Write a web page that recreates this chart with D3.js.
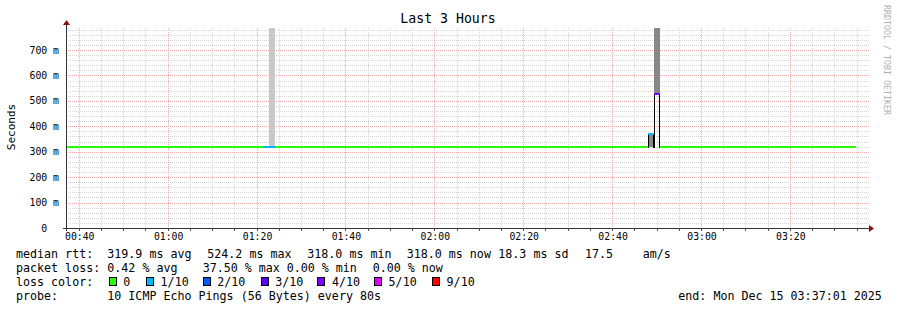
<!DOCTYPE html>
<html lang="en">
<head>
<meta charset="UTF-8" />
<title>Last 3 Hours</title>
<style>
  body { margin: 0; background: #fff; }
  svg { display: block; font-family: "DejaVu Sans Mono", monospace; }
  text { white-space: pre; }
</style>
</head>
<body>
<svg id="chart" width="897" height="310"></svg>
<script src="https://d3js.org/d3.v7.min.js"></script>
<script>
// ---- data ----
const title = "Last 3 Hours";
const yTitle = "Seconds";
const endTime = "2025-12-15 03:37:01";
const spanHours = 3;

const yTicks = [0, 0.1, 0.2, 0.3, 0.4, 0.5, 0.6, 0.7];
const yTickLabels = ["0", "100 m", "200 m", "300 m", "400 m", "500 m", "600 m", "700 m"];
const xTickLabels = ["00:40", "01:00", "01:20", "01:40", "02:00", "02:20", "02:40", "03:00", "03:20"];

// median rtt, one run per colour/level (seconds, loss out of 10)
const segStart  = ["00:37:01", "01:21:20", "01:24:00", "02:48:00", "02:49:20", "02:50:40"];
const segEnd    = ["01:21:20", "01:24:00", "02:48:00", "02:49:20", "02:50:40", "03:34:40"];
const segMedian = [0.319, 0.319, 0.319, 0.371, 0.527, 0.319];
const segLoss   = [0, 1, 0, 1, 4, 0];

// smoke (spread of the pings)
const smokeStart = ["01:22:40", "02:48:00", "02:49:20"];
const smokeEnd   = ["01:24:00", "02:49:20", "02:50:40"];
const smokeLo    = [0.319, 0.319, 0.527];
const smokeHi    = [0.9, 0.371, 0.9];
const smokeShade = ["#c8c8c8", "#878787", "#878787"];

const lossLabels = ["0", "1/10", "2/10", "3/10", "4/10", "5/10", "9/10"];
const lossFrom   = [0, 1, 2, 3, 4, 5, 9];
const lossColors = ["#26ff00", "#00b8ff", "#0059ff", "#5e00ff", "#7e00ff", "#dd00ff", "#ff0000"];

const rttStats  = ["319.9 ms avg", "524.2 ms max", "318.0 ms min", "318.0 ms now", "18.3 ms sd", "17.5", "am/s"];
const lossStats = ["0.42 % avg", "37.50 % max", "0.00 % min", "0.00 % now"];
const probeText = "10 ICMP Echo Pings (56 Bytes) every 80s";
const endText   = "end: Mon Dec 15 03:37:01 2025";
const credit    = "RRDTOOL / TOBI OETIKER";

// ---- drawing ----
const svg = d3.select("#chart");
const parseFull = d3.timeParse("%Y-%m-%d %H:%M:%S");
const t1 = parseFull(endTime);
const t0 = d3.timeHour.offset(t1, -spanHours);
const day = d3.timeFormat("%Y-%m-%d")(t1);
const at = s => parseFull(day + " " + (s.length === 5 ? s + ":00" : s));

const plotL = 66, plotR = 866, plotT = 28, plotB = 228;
const x = d3.scaleTime().domain([t0, t1]).range([plotL, plotR]);
const y = d3.scaleLinear().domain([0, 0.7865]).range([plotB, plotT]).clamp(true);
const lossColor = d3.scaleThreshold().domain(lossFrom.slice(1)).range(lossColors);

svg.append("rect").attr("width", 897).attr("height", 310).attr("fill", "#fff");

// grid
const grid = svg.append("g").attr("shape-rendering", "crispEdges");
const minorY = d3.range(1, 40).map(i => i * 0.02).filter(v => v <= 0.7865 && Math.round(v * 100) % 10 !== 0);
const majorY = yTicks.filter(v => v > 0);
const minorX = d3.timeMinute.every(5).range(t0, t1).filter(t => t.getMinutes() % 20 !== 0);
const majorX = d3.timeMinute.every(20).range(t0, t1);

grid.selectAll(".hmin").data(minorY).join("line")
  .attr("x1", plotL).attr("x2", 869)
  .attr("y1", d => Math.round(y(d)) + 0.5).attr("y2", d => Math.round(y(d)) + 0.5)
  .attr("stroke", "#d4d4d4").attr("stroke-dasharray", "1,1");
grid.selectAll(".vmin").data(minorX).join("line")
  .attr("x1", d => Math.floor(x(d)) + 0.5).attr("x2", d => Math.floor(x(d)) + 0.5)
  .attr("y1", plotT).attr("y2", plotB)
  .attr("stroke", "#d4d4d4").attr("stroke-dasharray", "1,1");
grid.selectAll(".hmaj").data(majorY).join("line")
  .attr("x1", plotL).attr("x2", 869)
  .attr("y1", d => Math.round(y(d)) + 0.5).attr("y2", d => Math.round(y(d)) + 0.5)
  .attr("stroke", "#f2a8a8").attr("stroke-dasharray", "1,1");
grid.selectAll(".vmaj").data(majorX).join("line")
  .attr("x1", d => Math.floor(x(d)) + 0.5).attr("x2", d => Math.floor(x(d)) + 0.5)
  .attr("y1", plotT).attr("y2", plotB)
  .attr("stroke", "#f2a8a8").attr("stroke-dasharray", "1,1");

// smoke
svg.append("g").attr("shape-rendering", "crispEdges")
  .selectAll("rect").data(smokeStart).join("rect")
  .attr("x", (d, i) => x(at(d)))
  .attr("width", (d, i) => x(at(smokeEnd[i])) - x(at(d)))
  .attr("y", (d, i) => y(smokeHi[i]))
  .attr("height", (d, i) => y(smokeLo[i]) - y(smokeHi[i]))
  .attr("fill", (d, i) => smokeShade[i]);

// black risers where the median leaves its base level
const base = d3.min(segMedian);
const risers = [];
segStart.forEach((s, i) => {
  if (segMedian[i] - base > 0.01) {
    risers.push({ t: at(s), v: segMedian[i], end: false });
    risers.push({ t: at(segEnd[i]), v: segMedian[i], end: true });
  }
});
svg.append("g").attr("shape-rendering", "crispEdges")
  .selectAll("line").data(risers).join("line")
  .attr("x1", d => Math.floor(x(d.t) - (d.end ? 0.5 : 0)) + 0.5)
  .attr("x2", d => Math.floor(x(d.t) - (d.end ? 0.5 : 0)) + 0.5)
  .attr("y1", d => y(d.v)).attr("y2", y(base) + 1)
  .attr("stroke", "#000");

// median line coloured by loss
const line = d3.line().x(d => d[0]).y(d => d[1]);
svg.append("g").attr("shape-rendering", "crispEdges")
  .selectAll("path").data(segStart).join("path")
  .attr("d", (d, i) => line([[x(at(d)), y(segMedian[i])], [x(at(segEnd[i])), y(segMedian[i])]]))
  .attr("fill", "none").attr("stroke-width", 2)
  .attr("stroke", (d, i) => lossColor(segLoss[i]));

// axes
const yAxis = svg.append("g").attr("transform", `translate(${plotL},0)`)
  .call(d3.axisLeft(y).tickValues(yTicks).tickSize(0).tickPadding(7)
    .tickFormat((d, i) => {
      const s = yTickLabels[i];
      return s.includes(" ") ? s : s.padStart(3) + "  ";
    }));
yAxis.select(".domain").remove();
yAxis.selectAll("text").attr("font-family", "DejaVu Sans Mono").attr("font-size", "9.8px").attr("fill", "#000");

const xAxis = svg.append("g").attr("transform", `translate(0,${plotB})`)
  .call(d3.axisBottom(x).tickValues(xTickLabels.map(at)).tickSize(0)
    .tickFormat((d, i) => xTickLabels[i]));
xAxis.select(".domain").remove();
xAxis.selectAll("text").attr("y", 12).attr("dy", 0)
  .attr("font-family", "DejaVu Sans Mono").attr("font-size", "9.8px").attr("fill", "#000");

const ticks = svg.append("g").attr("shape-rendering", "crispEdges");
ticks.selectAll("line").data(minorX.concat(majorX)).join("line")
  .attr("x1", d => Math.floor(x(d)) + 0.5).attr("x2", d => Math.floor(x(d)) + 0.5)
  .attr("y1", plotB).attr("y2", plotB + 3)
  .attr("stroke", "#555");

const axisLines = svg.append("g").attr("shape-rendering", "crispEdges");
axisLines.append("line").attr("x1", 63).attr("x2", 869)
  .attr("y1", plotB + 0.5).attr("y2", plotB + 0.5).attr("stroke", "#333");
axisLines.append("line").attr("x1", plotL + 0.5).attr("x2", plotL + 0.5)
  .attr("y1", 231).attr("y2", 25).attr("stroke", "#333");
svg.append("path").attr("d", `M869,${plotB - 3}L874,${plotB + 0.5}L869,${plotB + 4}Z`).attr("fill", "#8b1010");
svg.append("path").attr("d", `M${plotL - 3},25L${plotL + 0.5},20L${plotL + 4},25Z`).attr("fill", "#8b1010");

// titles
svg.append("text").attr("x", 448).attr("y", 23).attr("text-anchor", "middle")
  .attr("font-size", "13.2px").text(title);
svg.append("text").attr("transform", "translate(15,127) rotate(-90)").attr("text-anchor", "middle")
  .attr("font-size", "11px").text(yTitle);
svg.append("text").attr("transform", "translate(884,5) rotate(90)")
  .attr("font-size", "8.3px").attr("fill", "#b0b0b0").text(credit);

// legend
const lg = svg.append("g").attr("font-size", "11.66px").attr("fill", "#000");
const rowY = [258.3, 272.2, 286.1, 300];
const col = 107.3;
const rttX = [107.3, 207.3, 307.3, 406.7, 498.3, 585, 642.7];
const lossX = [107.3, 202.7, 286.7, 372.7];
const boxX = [108.7, 146, 202.7, 260.7, 317.3, 374, 432];

lg.append("text").attr("x", 16).attr("y", rowY[0]).text("median rtt:");
lg.selectAll(".rtt").data(rttStats).join("text")
  .attr("x", (d, i) => rttX[i]).attr("y", rowY[0]).text(d => d);

lg.append("text").attr("x", 16).attr("y", rowY[1]).text("packet loss:");
lg.selectAll(".pl").data(lossStats).join("text")
  .attr("x", (d, i) => lossX[i]).attr("y", rowY[1]).text(d => d);

lg.append("text").attr("x", 16).attr("y", rowY[2]).text("loss color:");
const items = lg.selectAll(".lc").data(lossLabels).join("g");
items.append("rect")
  .attr("x", (d, i) => Math.round(boxX[i]) + 0.5).attr("y", 277.5)
  .attr("width", 7).attr("height", 8)
  .attr("fill", (d, i) => lossColor(lossFrom[i]))
  .attr("stroke", "#000").attr("shape-rendering", "crispEdges");
items.append("text").attr("x", (d, i) => boxX[i] + 14.6).attr("y", rowY[2]).text(d => d);

lg.append("text").attr("x", 16).attr("y", rowY[3]).text("probe:");
lg.append("text").attr("x", col).attr("y", rowY[3]).text(probeText);
lg.append("text").attr("x", 678.3).attr("y", rowY[3]).text(endText);
</script>
</body>
</html>
